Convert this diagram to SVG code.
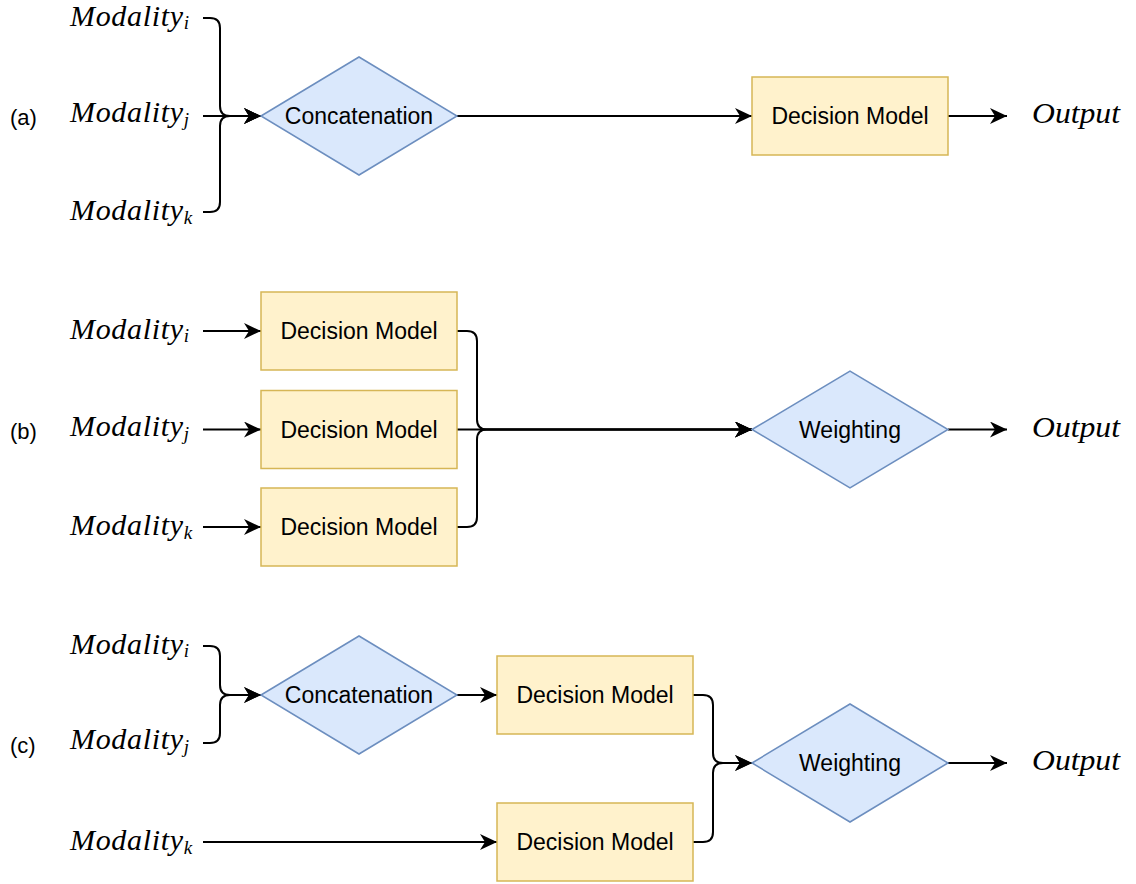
<svg xmlns="http://www.w3.org/2000/svg" width="1136" height="884" viewBox="0 0 1136 884">
  <defs>
    <marker id="arrow" markerUnits="userSpaceOnUse" markerWidth="20" markerHeight="18" refX="17" refY="8" orient="auto">
      <path d="M0,0 L17,8 L0,16 L5,8 Z" fill="#000"/>
    </marker>
    <style>
      .edge { fill: none; stroke: #000; stroke-width: 2; }
      .arr { marker-end: url(#arrow); }
      .box { fill: #fff2cc; stroke: #d6b656; stroke-width: 1.5; }
      .dia { fill: #dae8fc; stroke: #6c8ebf; stroke-width: 1.5; }
      .lbl { font-family: "Liberation Sans", Arial, sans-serif; font-size: 23px; fill: #000; text-anchor: middle; }
      .tag { font-family: "Liberation Sans", Arial, sans-serif; font-size: 22px; fill: #000; }
      .math { font-family: "Liberation Serif", "Times New Roman", serif; font-style: italic; font-size: 30px; fill: #000; }
      .sub { font-size: 19px; }
    </style>
  </defs>
  <rect width="1136" height="884" fill="#fff"/>

  <!-- connectors -->
  <g id="connectors">
    <!-- (a) -->
    <path class="edge arr" d="M203,18 H210 Q220,18 220,28 V106 Q220,116 230,116 H261"/>
    <path class="edge arr" d="M203,116 H261"/>
    <path class="edge arr" d="M203,212 H210 Q220,212 220,202 V126 Q220,116 230,116 H261"/>
    <path class="edge arr" d="M457,116 H752"/>
    <path class="edge arr" d="M948,116 H1007"/>
    <!-- (b) -->
    <path class="edge arr" d="M203,331 H261"/>
    <path class="edge arr" d="M203,429.5 H261"/>
    <path class="edge arr" d="M203,527 H261"/>
    <path class="edge arr" d="M457,331 H467 Q477,331 477,341 V419.5 Q477,429.5 487,429.5 H752"/>
    <path class="edge arr" d="M457,429.5 H752"/>
    <path class="edge arr" d="M457,527 H467 Q477,527 477,517 V439.5 Q477,429.5 487,429.5 H752"/>
    <path class="edge arr" d="M948,429.5 H1007"/>
    <!-- (c) -->
    <path class="edge arr" d="M203,646 H210 Q220,646 220,656 V685 Q220,695 230,695 H261"/>
    <path class="edge arr" d="M203,743 H210 Q220,743 220,733 V705 Q220,695 230,695 H261"/>
    <path class="edge arr" d="M457,695 H497"/>
    <path class="edge arr" d="M203,842 H497"/>
    <path class="edge arr" d="M693,695 H703 Q713,695 713,705 V753 Q713,763 723,763 H752"/>
    <path class="edge arr" d="M693,842 H703 Q713,842 713,832 V773 Q713,763 723,763 H752"/>
    <path class="edge arr" d="M948,763 H1007"/>
  </g>

  <!-- panel tags -->
  <text class="tag" x="10" y="125">(a)</text>
  <text class="tag" x="10" y="439">(b)</text>
  <text class="tag" x="10" y="753">(c)</text>

  <!-- (a) inputs -->
  <g id="a-mod-i"><text class="math" x="70" y="26"><tspan textLength="113" lengthAdjust="spacing">Modality</tspan><tspan class="sub" dy="3">i</tspan></text></g>
  <g id="a-mod-j"><text class="math" x="70" y="122"><tspan textLength="113" lengthAdjust="spacing">Modality</tspan><tspan class="sub" dy="4">j</tspan></text></g>
  <g id="a-mod-k"><text class="math" x="70" y="220"><tspan textLength="113" lengthAdjust="spacing">Modality</tspan><tspan class="sub" dy="4">k</tspan></text></g>
  <g id="a-concat">
    <polygon class="dia" points="261,116 359,57 457,116 359,175"/>
    <text class="lbl" x="359" y="124">Concatenation</text>
  </g>
  <g id="a-decision">
    <rect class="box" x="752" y="77" width="196" height="78"/>
    <text class="lbl" x="850" y="124">Decision Model</text>
  </g>
  <g id="a-output"><text class="math" x="1032" y="123" textLength="88" lengthAdjust="spacingAndGlyphs">Output</text></g>

  <!-- (b) -->
  <g id="b-mod-i"><text class="math" x="70" y="338.5"><tspan textLength="113" lengthAdjust="spacing">Modality</tspan><tspan class="sub" dy="3">i</tspan></text></g>
  <g id="b-mod-j"><text class="math" x="70" y="435.5"><tspan textLength="113" lengthAdjust="spacing">Modality</tspan><tspan class="sub" dy="4">j</tspan></text></g>
  <g id="b-mod-k"><text class="math" x="70" y="535"><tspan textLength="113" lengthAdjust="spacing">Modality</tspan><tspan class="sub" dy="4">k</tspan></text></g>
  <g id="b-decision-i">
    <rect class="box" x="261" y="292" width="196" height="78"/>
    <text class="lbl" x="359" y="339">Decision Model</text>
  </g>
  <g id="b-decision-j">
    <rect class="box" x="261" y="390.5" width="196" height="78"/>
    <text class="lbl" x="359" y="437.5">Decision Model</text>
  </g>
  <g id="b-decision-k">
    <rect class="box" x="261" y="488" width="196" height="78"/>
    <text class="lbl" x="359" y="535">Decision Model</text>
  </g>
  <g id="b-weighting">
    <polygon class="dia" points="752,429.5 850,371 948,429.5 850,488"/>
    <text class="lbl" x="850" y="437.5">Weighting</text>
  </g>
  <g id="b-output"><text class="math" x="1032" y="436.5" textLength="88" lengthAdjust="spacingAndGlyphs">Output</text></g>

  <!-- (c) -->
  <g id="c-mod-i"><text class="math" x="70" y="653.5"><tspan textLength="113" lengthAdjust="spacing">Modality</tspan><tspan class="sub" dy="3">i</tspan></text></g>
  <g id="c-mod-j"><text class="math" x="70" y="749"><tspan textLength="113" lengthAdjust="spacing">Modality</tspan><tspan class="sub" dy="4">j</tspan></text></g>
  <g id="c-mod-k"><text class="math" x="70" y="850"><tspan textLength="113" lengthAdjust="spacing">Modality</tspan><tspan class="sub" dy="4">k</tspan></text></g>
  <g id="c-concat">
    <polygon class="dia" points="261,695 359,636 457,695 359,754"/>
    <text class="lbl" x="359" y="703">Concatenation</text>
  </g>
  <g id="c-decision-ij">
    <rect class="box" x="497" y="656" width="196" height="78"/>
    <text class="lbl" x="595" y="703">Decision Model</text>
  </g>
  <g id="c-decision-k">
    <rect class="box" x="497" y="803" width="196" height="78"/>
    <text class="lbl" x="595" y="850">Decision Model</text>
  </g>
  <g id="c-weighting">
    <polygon class="dia" points="752,763 850,704 948,763 850,822"/>
    <text class="lbl" x="850" y="771">Weighting</text>
  </g>
  <g id="c-output"><text class="math" x="1032" y="770" textLength="88" lengthAdjust="spacingAndGlyphs">Output</text></g>
</svg>
